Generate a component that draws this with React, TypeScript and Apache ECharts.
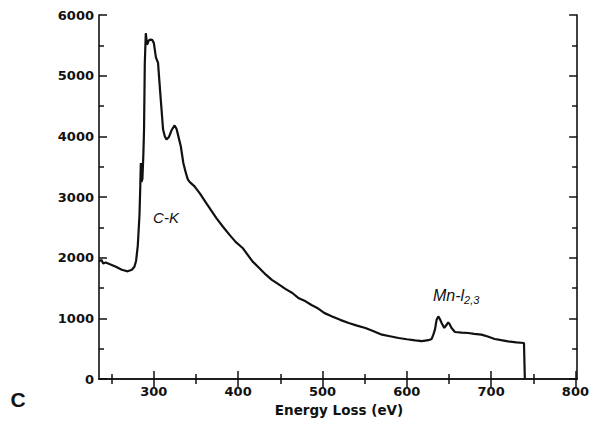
import React, { useEffect, useRef } from "react";
import * as echarts from "echarts";

const energy: number[] = [
  235, 238, 240, 243, 248, 255, 262, 269, 274, 277, 279, 281, 283, 284, 284.6, 285.3, 286.5, 287.6, 288.4, 289.3,
  290.5, 292, 294, 296, 298, 300, 302.5, 305, 308, 311, 313, 315, 318, 321, 324.7, 327, 330, 332, 335, 338, 340.4,
  343, 348.3, 355, 362, 368, 374, 382, 389.6, 397, 405.3, 417, 425, 432.9, 440, 448.6, 456, 464.3, 472, 480, 487,
  493.8, 502, 511.5, 521, 531.2, 541, 550.9, 560, 570.5, 580, 590.2, 600, 609.9, 618, 625.6, 629.5, 631.5, 633.4,
  635.4, 637.4, 639.5, 641.3, 644.5, 647, 649.2, 651, 653.1, 657.1, 665, 672.8, 680, 688.5, 696, 704.3, 712, 720,
  730, 739, 740,
];
const counts: number[] = [
  1940, 1960, 1905, 1920, 1890, 1850, 1800, 1775, 1800, 1850, 1950, 2200, 2700, 3200, 3560, 3250, 3300, 3700, 4100,
  5200, 5700, 5510, 5580, 5595, 5590, 5540, 5300, 5211, 4650, 4111, 4000, 3946, 3990, 4100, 4180, 4120, 3950, 3836,
  3560, 3397, 3287, 3240, 3176, 3050, 2902, 2780, 2655, 2510, 2380, 2260, 2160, 1939, 1830, 1720, 1635, 1555, 1485,
  1418, 1330, 1280, 1220, 1171, 1090, 1032, 975, 923, 880, 841, 790, 731, 705, 676, 655, 637, 625, 640, 660, 731,
  813, 978, 1032, 980, 923, 841, 890, 933, 900, 841, 775, 765, 758, 745, 731, 700, 660, 640, 620, 605, 593, 0,
];
const xMajorTicks: number[] = [300, 400, 500, 600, 700, 800];
const xMinorTicks: number[] = [250, 350, 450, 550, 650, 750];
const yMajorTicks: number[] = [0, 1000, 2000, 3000, 4000, 5000, 6000];
const yMinorTicks: number[] = [500, 1500, 2500, 3500, 4500, 5500];

const FONT = "DejaVu Sans";
const INK = "#111";

export default function App() {
  const ref = useRef<HTMLDivElement>(null);
  useEffect(() => {
    if (!ref.current) return;
    const chart = echarts.init(ref.current, undefined, { renderer: "svg" });
    const data = energy.map((e, i) => [e, counts[i]]);
    const axisLine = { show: true, lineStyle: { color: INK, width: 1.6 } };
    const tickStyle = { color: INK, width: 1.5 };
    const xBase = { type: "value" as const, min: 235, max: 802, splitLine: { show: false } };
    const yBase = { type: "value" as const, min: 0, max: 6000, splitLine: { show: false } };
    const mkX = (position: string, major: boolean, labels: boolean) => ({
      ...xBase,
      position,
      axisLine: major ? axisLine : { show: false },
      axisTick: { show: true, inside: true, length: major ? 8 : 5, customValues: major ? xMajorTicks : xMinorTicks, lineStyle: tickStyle },
      axisLabel: labels
        ? { show: true, customValues: xMajorTicks, margin: 6, fontFamily: FONT, fontWeight: "bold", fontSize: 13, color: INK }
        : { show: false },
    });
    const mkY = (position: string, major: boolean, labels: boolean) => ({
      ...yBase,
      position,
      axisLine: major ? axisLine : { show: false },
      axisTick: { show: true, inside: true, length: major ? 8 : 5, customValues: major ? yMajorTicks : yMinorTicks, lineStyle: tickStyle },
      axisLabel: labels
        ? {
            show: true,
            customValues: yMajorTicks,
            margin: 5,
            fontFamily: FONT,
            fontWeight: "bold",
            fontSize: 13,
            color: INK,
            formatter: (v: number) => String(v),
          }
        : { show: false },
    });
    chart.setOption({
      animation: false,
      backgroundColor: "#fff",
      grid: { left: 99, right: 12, top: 15, bottom: 46, containLabel: false },
      xAxis: [mkX("bottom", true, true), mkX("bottom", false, false), mkX("top", true, false), mkX("top", false, false)],
      yAxis: [mkY("left", true, true), mkY("left", false, false), mkY("right", true, false), mkY("right", false, false)],
      series: [
        {
          type: "line",
          xAxisIndex: 0,
          yAxisIndex: 0,
          data,
          showSymbol: false,
          lineStyle: { color: INK, width: 2.2 },
          z: 5,
        },
      ],
      graphic: [
        {
          type: "text",
          x: 339,
          y: 410,
          style: {
            text: "Energy Loss (eV)",
            fontFamily: FONT,
            fontWeight: "bold",
            fontSize: 13.5,
            fill: INK,
            textAlign: "center",
            textVerticalAlign: "middle",
          },
        },
        {
          type: "text",
          x: 18,
          y: 399,
          style: {
            text: "C",
            fontFamily: "Liberation Sans",
            fontWeight: "bold",
            fontSize: 21,
            fill: INK,
            textAlign: "center",
            textVerticalAlign: "middle",
          },
        },
        {
          type: "text",
          x: 166,
          y: 217,
          style: {
            text: "C-K",
            fontFamily: "Liberation Sans",
            fontStyle: "italic",
            fontSize: 15,
            fill: INK,
            textAlign: "center",
            textVerticalAlign: "middle",
          },
        },
        {
          type: "text",
          x: 433,
          y: 287,
          style: {
            text: "{a|Mn-l}{b|2,3}",
            fill: INK,
            rich: {
              a: { fontFamily: "Liberation Sans", fontStyle: "italic", fontSize: 16, fill: INK, lineHeight: 18, verticalAlign: "top" },
              b: { fontFamily: "Liberation Sans", fontStyle: "italic", fontSize: 11, fill: INK, lineHeight: 18, padding: [8, 0, 0, 0] },
            },
          },
        },
      ],
    });
    return () => chart.dispose();
  }, []);
  return <div ref={ref} style={{ position: "fixed", left: 0, top: 0, width: 592, height: 425 }} />;
}
